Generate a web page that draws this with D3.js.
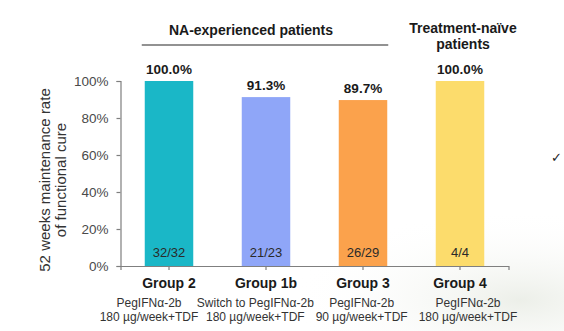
<!DOCTYPE html>
<html>
<head>
<meta charset="utf-8">
<script src="https://cdn.jsdelivr.net/npm/d3@7/dist/d3.min.js"></script>
<style>
  html, body { margin: 0; padding: 0; background: #fff; }
  svg { display: block; font-family: "Liberation Sans", Arial, sans-serif; }
  .axis path, .axis line { stroke: #7f7f7f; stroke-width: 1.2; }
  .axis text { fill: #4a4a4a; }
</style>
</head>
<body>
<svg id="chart" width="564" height="331"></svg>
<script>
  // maintenance rate by treatment group
  var groups = ['Group 2', 'Group 1b', 'Group 3', 'Group 4'],
      rates = [100.0, 91.3, 89.7, 100.0],
      counts = ['32/32', '21/23', '26/29', '4/4'],
      regimenTop = ['PegIFNα-2b', 'Switch to PegIFNα-2b', 'PegIFNα-2b', 'PegIFNα-2b'],
      regimenBottom = ['180 µg/week+TDF', '180 µg/week+TDF', '90 µg/week+TDF', '180 µg/week+TDF'],
      barColors = ['#1ab7c7', '#8fa6f8', '#fba24c', '#fcdc6c'],
      yTicks = [0, 20, 40, 60, 80, 100];

  var svg = d3.select('#chart'),
      margin = {top: 81, left: 120.5, right: 55.5, bottom: 65},
      width = 564 - margin.left - margin.right,
      height = 331 - margin.top - margin.bottom;

  // faint backdrop wash in the lower right
  var defs = svg.append('defs');
  var grad = defs.append('radialGradient').attr('id', 'wash');
  grad.append('stop').attr('offset', '0%').attr('stop-color', '#e4e8df').attr('stop-opacity', 0.7);
  grad.append('stop').attr('offset', '100%').attr('stop-color', '#ffffff').attr('stop-opacity', 0);
  svg.append('ellipse')
    .attr('cx', 520).attr('cy', 300)
    .attr('rx', 230).attr('ry', 90)
    .attr('fill', 'url(#wash)');

  var g = svg.append('g')
    .attr('transform', 'translate(' + margin.left + ',' + margin.top + ')');

  var x = d3.scaleBand()
    .domain(groups)
    .range([0, width])
    .paddingInner(0.5)
    .paddingOuter(0.25);

  var y = d3.scaleLinear()
    .domain([0, 100])
    .range([height, 0]);

  // regimen captions sit on their own, slightly wider spread
  var xNote = d3.scalePoint()
    .domain(groups)
    .range([149 - margin.left, 468 - margin.left]);

  // bars
  g.selectAll('.bar')
    .data(groups)
    .enter().append('rect')
      .attr('class', 'bar')
      .attr('x', function(d) { return x(d); })
      .attr('y', function(d, i) { return y(rates[i]); })
      .attr('width', x.bandwidth())
      .attr('height', function(d, i) { return height - y(rates[i]); })
      .attr('fill', function(d, i) { return barColors[i]; });

  // value labels above bars
  g.selectAll('.rate')
    .data(groups)
    .enter().append('text')
      .attr('class', 'rate')
      .attr('x', function(d) { return x(d) + x.bandwidth() / 2; })
      .attr('y', function(d, i) { return y(rates[i]) - 7; })
      .attr('text-anchor', 'middle')
      .style('font-weight', 'bold')
      .style('font-size', '13.5px')
      .style('fill', '#1a1a1a')
      .text(function(d, i) { return d3.format('.1f')(rates[i]) + '%'; });

  // n/N inside bars
  g.selectAll('.count')
    .data(groups)
    .enter().append('text')
      .attr('class', 'count')
      .attr('x', function(d) { return x(d) + x.bandwidth() / 2; })
      .attr('y', height - 9)
      .attr('text-anchor', 'middle')
      .style('font-size', '13px')
      .style('fill', '#2a2a2a')
      .text(function(d, i) { return counts[i]; });

  // y axis
  g.append('g')
    .attr('class', 'axis y-axis')
    .call(d3.axisLeft(y)
      .tickValues(yTicks)
      .tickSize(4)
      .tickPadding(8)
      .tickFormat(function(d) { return d + '%'; }))
    .selectAll('text')
      .style('font-size', '13.5px')
      .style('font-family', '"Liberation Sans", Arial, sans-serif');

  // x axis with group names as tick labels
  var xAxis = g.append('g')
    .attr('class', 'axis x-axis')
    .attr('transform', 'translate(0,' + height + ')')
    .call(d3.axisBottom(x).tickSize(4).tickPadding(8));
  xAxis.selectAll('text')
    .style('font-size', '14px')
    .style('font-weight', 'bold')
    .style('fill', '#1a1a1a')
    .style('font-family', '"Liberation Sans", Arial, sans-serif');

  // regimen captions
  g.selectAll('.regimen-top')
    .data(groups)
    .enter().append('text')
      .attr('class', 'regimen-top')
      .attr('x', function(d) { return xNote(d); })
      .attr('y', height + 41)
      .attr('text-anchor', 'middle')
      .style('font-size', '12px')
      .style('fill', '#333')
      .text(function(d, i) { return regimenTop[i]; });

  g.selectAll('.regimen-bottom')
    .data(groups)
    .enter().append('text')
      .attr('class', 'regimen-bottom')
      .attr('x', function(d) { return xNote(d); })
      .attr('y', height + 55)
      .attr('text-anchor', 'middle')
      .style('font-size', '12px')
      .style('fill', '#333')
      .text(function(d, i) { return regimenBottom[i]; });

  // y axis title, two centred lines
  var yTitle = svg.append('text')
    .attr('transform', 'translate(0,180) rotate(-90)')
    .attr('text-anchor', 'middle')
    .style('font-size', '15px')
    .style('fill', '#333');
  yTitle.append('tspan').attr('x', 0).attr('y', 50).text('52 weeks maintenance rate');
  yTitle.append('tspan').attr('x', 0).attr('y', 66).text('of functional cure');

  // cohort headers
  svg.append('text')
    .attr('x', 251)
    .attr('y', 35)
    .attr('text-anchor', 'middle')
    .style('font-size', '14px')
    .style('font-weight', 'bold')
    .style('fill', '#1a1a1a')
    .text('NA-experienced patients');

  svg.append('line')
    .attr('x1', x(groups[0]) + margin.left - 3)
    .attr('x2', x(groups[2]) + x.bandwidth() + margin.left + 1)
    .attr('y1', 45).attr('y2', 45)
    .attr('stroke', '#6e6e6e')
    .attr('stroke-width', 1.5);

  var naive = svg.append('text')
    .attr('text-anchor', 'middle')
    .style('font-size', '14px')
    .style('font-weight', 'bold')
    .style('fill', '#1a1a1a');
  naive.append('tspan').attr('x', 463).attr('y', 33).text('Treatment-naïve');
  naive.append('tspan').attr('x', 463).attr('y', 49).text('patients');

  // small tick mark at the right edge
  svg.append('text')
    .attr('x', 551)
    .attr('y', 162)
    .style('font-size', '13px')
    .style('fill', '#222')
    .text('✓');
</script>
</body>
</html>
